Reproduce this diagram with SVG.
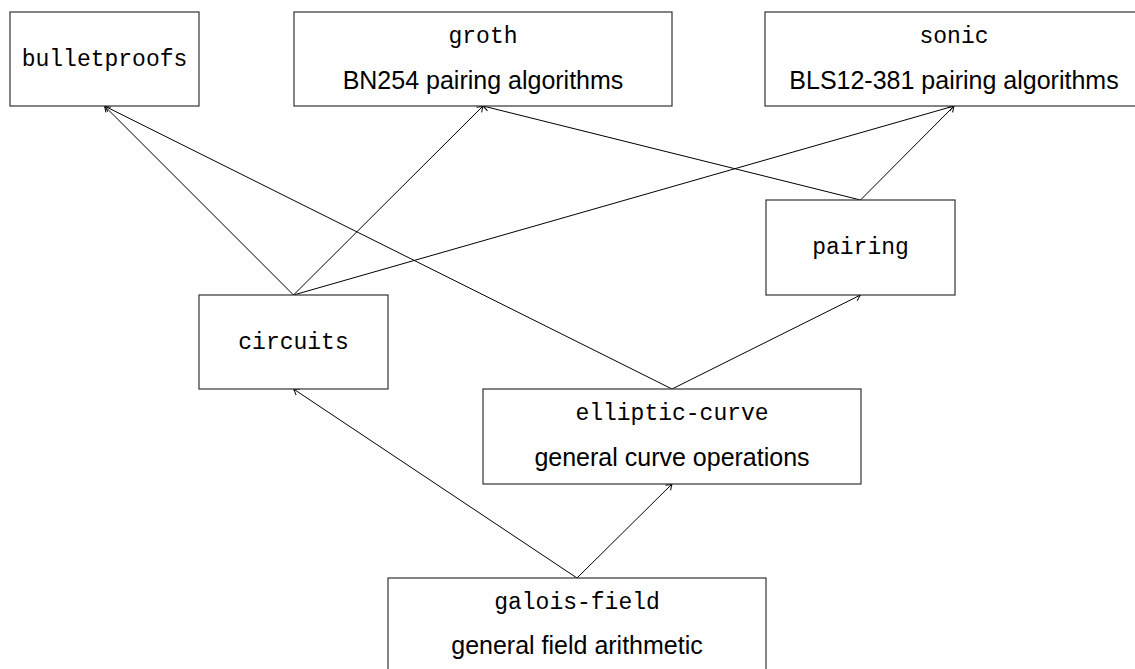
<svg xmlns="http://www.w3.org/2000/svg" width="1135" height="669" viewBox="0 0 1135 669">
<defs>
<marker id="tip" markerUnits="userSpaceOnUse" markerWidth="14" markerHeight="14" viewBox="-8 -7 10 14" refX="0" refY="0" orient="auto">
<path d="M -5.5 -3.6 Q -2 -1 0 0 Q -2 1 -5.5 3.6" fill="none" stroke="#000" stroke-width="1"/>
</marker>
<style>
.box{fill:#fff;stroke:#333;stroke-width:1.2}
.tt{font-family:"Liberation Mono","DejaVu Sans Mono",monospace;font-size:23px;fill:#000;text-anchor:middle}
.ss{font-family:"Liberation Sans",Arial,sans-serif;font-size:25px;fill:#000;text-anchor:middle}
.edge{stroke:#000;stroke-width:1;fill:none;marker-end:url(#tip)}
</style>
</defs>
<rect width="1135" height="669" fill="#fff"/>
<g id="connectors">
<line class="edge" x1="293.5" y1="295" x2="104.5" y2="106"/>
<line class="edge" x1="293.5" y1="295" x2="483" y2="106"/>
<line class="edge" x1="293.5" y1="295" x2="954" y2="106"/>
<line class="edge" x1="860.5" y1="200" x2="483" y2="106"/>
<line class="edge" x1="860.5" y1="200" x2="954" y2="106"/>
<line class="edge" x1="672" y1="389" x2="104.5" y2="106"/>
<line class="edge" x1="672" y1="389" x2="860.5" y2="295"/>
<line class="edge" x1="577" y1="578" x2="293.5" y2="389"/>
<line class="edge" x1="577" y1="578" x2="672" y2="484"/>
</g>
<g id="bulletproofs">
<rect class="box" x="10" y="12" width="189" height="94"/>
<text class="tt" x="104.5" y="66">bulletproofs</text>
</g>
<g id="groth">
<rect class="box" x="294" y="12" width="378" height="94"/>
<text class="tt" x="483" y="43">groth</text>
<text class="ss" x="483" y="89">BN254 pairing algorithms</text>
</g>
<g id="sonic">
<rect class="box" x="765" y="12" width="378" height="94"/>
<text class="tt" x="954" y="43">sonic</text>
<text class="ss" x="954" y="89">BLS12-381 pairing algorithms</text>
</g>
<g id="pairing">
<rect class="box" x="766" y="200" width="189" height="95"/>
<text class="tt" x="860.5" y="254">pairing</text>
</g>
<g id="circuits">
<rect class="box" x="199" y="295" width="189" height="94"/>
<text class="tt" x="293.5" y="349">circuits</text>
</g>
<g id="elliptic-curve">
<rect class="box" x="483" y="389" width="378" height="95"/>
<text class="tt" x="672" y="420">elliptic-curve</text>
<text class="ss" x="672" y="466">general curve operations</text>
</g>
<g id="galois-field">
<rect class="box" x="388" y="578" width="378" height="95"/>
<text class="tt" x="577" y="609">galois-field</text>
<text class="ss" x="577" y="654">general field arithmetic</text>
</g>
</svg>
